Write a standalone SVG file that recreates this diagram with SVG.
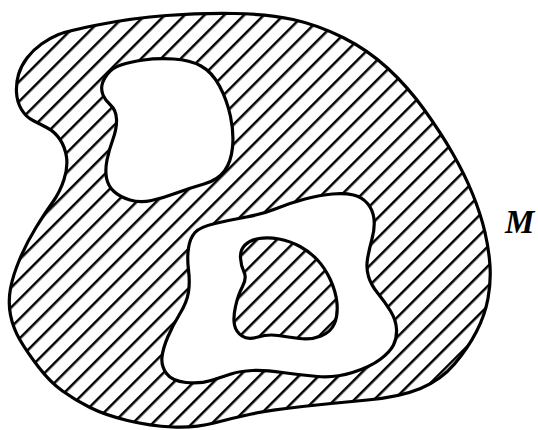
<svg xmlns="http://www.w3.org/2000/svg" width="538" height="430" viewBox="0 0 538 430">
<defs>
<pattern id="hatch" patternUnits="userSpaceOnUse" width="14" height="14" patternTransform="rotate(-45)">
<rect x="0" y="0" width="14" height="2.5" fill="#000"/>
</pattern>
</defs>
<style>
.region{fill:url(#hatch);fill-rule:evenodd;stroke:#000;stroke-width:3.2;stroke-linejoin:round}
.label{font-family:"Liberation Serif","Times New Roman",serif;font-style:italic;font-weight:bold;font-size:33px;fill:#000}
</style>
<rect width="538" height="430" fill="#fff"/>
<g id="region-M">
<path class="region" d="M 100,24.5 Q 133,18 166.5,15.5 Q 200,13 234,13.5 Q 268,14 293,19.5 Q 318,25 343,37.5 Q 368,50 388,68.5 Q 408,87 424.5,110 Q 441,133 453,154 Q 465,175 473,195 Q 481,215 485,232.5 Q 489,250 490,266 Q 491,282 488,298.5 Q 485,315 476.5,331.5 Q 468,348 454.5,364 Q 441,380 420.5,388.5 Q 400,397 367.5,400 Q 335,403 302.5,406.5 Q 270,410 251.5,414 Q 233,418 214,423 Q 195,428 172.5,427 Q 150,426 127.5,420.5 Q 105,415 90,407.5 Q 75,400 62.5,391 Q 50,382 38.5,367 Q 27,352 20,340 Q 13,328 10.5,315 Q 8,302 10.5,288.5 Q 13,275 20,258.5 Q 27,242 36,227.5 Q 45,213 52.5,202.5 Q 60,192 64,179.5 Q 68,167 66.5,157 Q 65,147 60,139.5 Q 55,132 47.5,128 Q 40,124 33,120.5 Q 26,117 21.5,109.5 Q 17,102 16.5,92.5 Q 16,83 18.5,74.5 Q 21,66 27,58 Q 33,50 41.5,44 Q 50,38 58.5,34.5 Q 67,31 100,24.5 Z
M 107.5,74 Q 112,68 121,65 Q 130,62 143.5,60 Q 157,58 173.5,59 Q 190,60 201,66 Q 212,72 219.5,86 Q 227,100 230.5,116.5 Q 234,133 232.5,147.5 Q 231,162 224.5,171 Q 218,180 204,184 Q 190,188 176.5,193 Q 163,198 151.5,200.5 Q 140,203 130,200 Q 120,197 114,191.5 Q 108,186 106.5,178 Q 105,170 107,160 Q 109,150 113,139 Q 117,128 116.5,119 Q 116,110 110.5,105 Q 105,100 103,95 Q 101,90 102,85 Q 103,80 107.5,74 Z
M 195,232.5 Q 200,227 215,223.5 Q 230,220 246.5,217 Q 263,214 276.5,208.5 Q 290,203 305,199 Q 320,195 332.5,194 Q 345,193 353.5,195 Q 362,197 367.5,203.5 Q 373,210 374,219 Q 375,228 372,239 Q 369,250 367.5,259 Q 366,268 368.5,276.5 Q 371,285 378,293.5 Q 385,302 390.5,311 Q 396,320 396.5,329 Q 397,338 393.5,345 Q 390,352 380,359.5 Q 370,367 352.5,372.5 Q 335,378 317.5,376.5 Q 300,375 282.5,372.5 Q 265,370 252.5,370.5 Q 240,371 231,374 Q 222,377 211,380.5 Q 200,384 186,382.5 Q 172,381 166.5,373.5 Q 161,366 162,357 Q 163,348 168,336.5 Q 173,325 180,313.5 Q 187,302 188.5,292 Q 190,282 188.5,270 Q 187,258 188.5,248 Q 190,238 195,232.5 Z
M 245,245 Q 250,240 259,238.5 Q 268,237 279,239 Q 290,241 300,246.5 Q 310,252 317.5,260 Q 325,268 330.5,280 Q 336,292 337,303.5 Q 338,315 334.5,323.5 Q 331,332 321,336 Q 311,340 299.5,338.5 Q 288,337 278,335.5 Q 268,334 258,337 Q 248,340 242,336 Q 236,332 234.5,325 Q 233,318 235.5,306.5 Q 238,295 242.5,286.5 Q 247,278 244,272 Q 241,266 240.5,258 Q 240,250 245,245 Z"/>
</g>
<g id="label-M">
<text class="label" x="505" y="233">M</text>
</g>
</svg>
